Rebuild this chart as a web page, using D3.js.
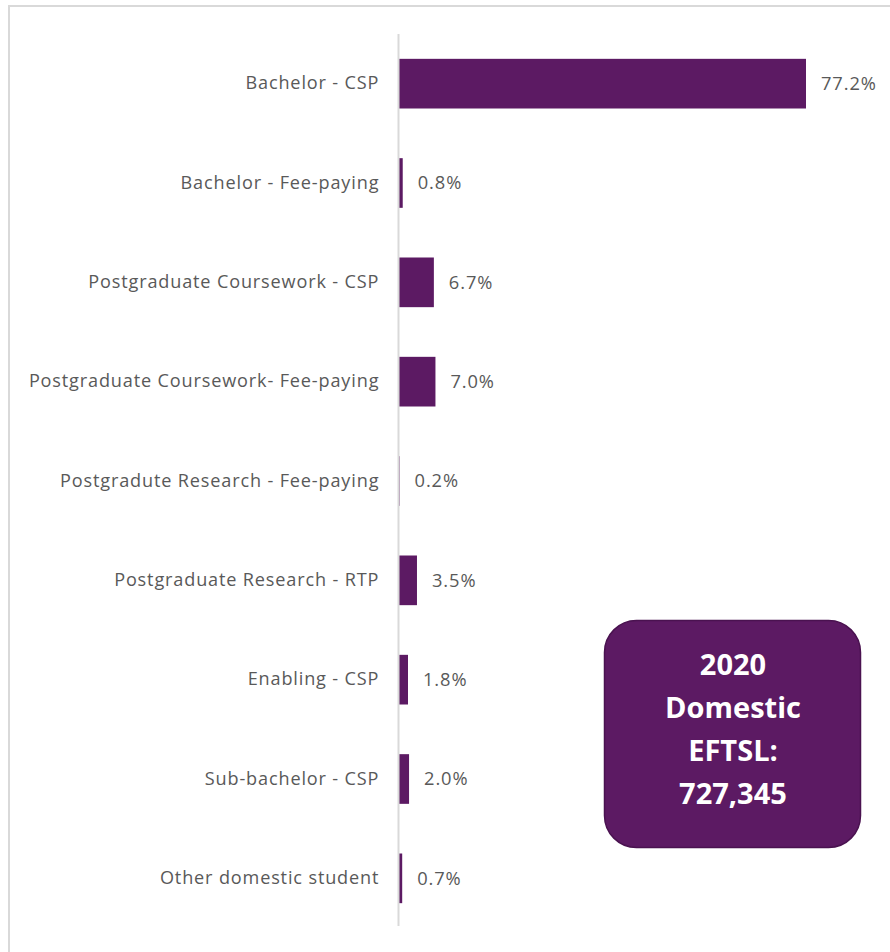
<!DOCTYPE html>
<html>
<head>
<meta charset="utf-8">
<script src="https://cdn.jsdelivr.net/npm/d3@7"></script>
<style>
  html, body { margin: 0; padding: 0; background: #fff; }
  svg { display: block; }
</style>
</head>
<body>
<svg id="chart" width="890" height="952"></svg>
<script>
// Share of 2020 domestic EFTSL by course / funding type (%)
const categories = [
  "Bachelor - CSP",
  "Bachelor - Fee-paying",
  "Postgraduate Coursework - CSP",
  "Postgraduate Coursework- Fee-paying",
  "Postgradute Research - Fee-paying",
  "Postgraduate Research - RTP",
  "Enabling - CSP",
  "Sub-bachelor - CSP",
  "Other domestic student"
];
const shares = [77.2, 0.8, 6.7, 7.0, 0.2, 3.5, 1.8, 2.0, 0.7];
const totalLines = ["2020", "Domestic", "EFTSL:", "727,345"];

const purple = "#5c1a63";
const textGrey = "#595959";
const font = "'Open Sans', 'Noto Sans', sans-serif";

const svg = d3.select("#chart");

// outer frame
svg.append("rect")
  .attr("x", 9).attr("y", 6)
  .attr("width", 900).attr("height", 960)
  .attr("fill", "none")
  .attr("stroke", "#d9d9d9")
  .attr("stroke-width", 2);

const axisX = 398.5;
const x = d3.scaleLinear().domain([0, 77.2]).range([axisX, 806]);
const y = d3.scaleBand().domain(categories).range([34, 928]).paddingInner(0.5).paddingOuter(0.25);

// category labels
const yAxis = d3.axisLeft(y).tickSize(0).tickPadding(20);
const gy = svg.append("g")
  .attr("transform", `translate(${axisX},0)`)
  .call(yAxis);
gy.select(".domain").remove();
gy.selectAll("text")
  .attr("fill", textGrey)
  .attr("dx", "0.8px")
  .style("font-family", font)
  .style("font-size", "18.1px")
  .style("letter-spacing", "0.85px");

// bars
svg.append("g").selectAll("rect")
  .data(shares)
  .join("rect")
  .attr("x", x(0))
  .attr("y", (d, i) => y(categories[i]))
  .attr("width", d => Math.max(0, x(d) - x(0)))
  .attr("height", y.bandwidth())
  .attr("fill", purple);

// category axis line
svg.append("line")
  .attr("x1", axisX).attr("x2", axisX)
  .attr("y1", 34).attr("y2", 926)
  .attr("stroke", "#d9d9d9")
  .attr("stroke-width", 2);

// value labels
svg.append("g").selectAll("text")
  .data(shares)
  .join("text")
  .attr("x", d => x(d) + 15)
  .attr("y", (d, i) => y(categories[i]) + y.bandwidth() / 2)
  .attr("dy", "0.35em")
  .attr("fill", textGrey)
  .style("font-family", font)
  .style("font-size", "18.3px")
  .style("letter-spacing", "0.9px")
  .text(d => d.toFixed(1) + "%");

// total callout
const box = svg.append("g");
box.append("rect")
  .attr("x", 604.5).attr("y", 620.5)
  .attr("width", 256).attr("height", 227)
  .attr("rx", 32).attr("ry", 32)
  .attr("fill", purple)
  .attr("stroke", "#4a1250")
  .attr("stroke-width", 1.5);
box.selectAll("text")
  .data(totalLines)
  .join("text")
  .attr("x", 733)
  .attr("y", (d, i) => 665 + i * 43)
  .attr("dy", "0.35em")
  .attr("text-anchor", "middle")
  .attr("fill", "#fff")
  .style("font-family", font)
  .style("font-weight", "bold")
  .style("font-size", "29px")
  .text(d => d);
</script>
</body>
</html>
